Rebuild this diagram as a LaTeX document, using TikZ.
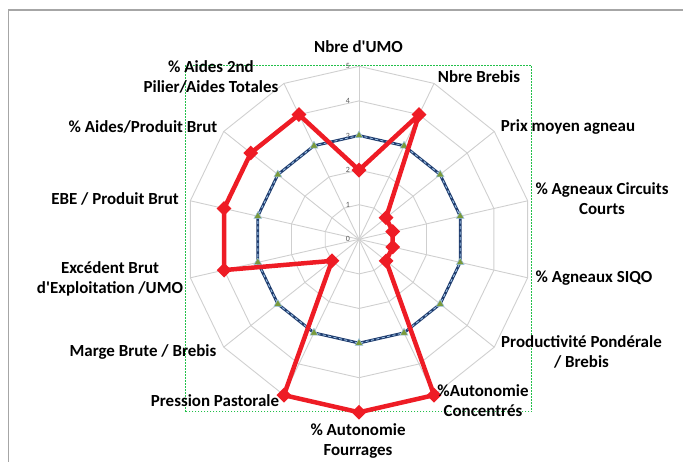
\documentclass[tikz,border=0pt]{standalone}
\usepackage{fontspec}
\setmainfont{Carlito}
\usetikzlibrary{shapes.geometric}

\definecolor{gridgray}{HTML}{CFCFCF}
\definecolor{framegray}{HTML}{A6A6A6}
\definecolor{navy}{HTML}{1F3C6E}
\definecolor{lightdash}{HTML}{9DC3E6}
\definecolor{olive}{HTML}{7A9A3A}
\definecolor{chartred}{HTML}{EE1C25}
\definecolor{boxgreen}{HTML}{22C04A}

\begin{document}
\begin{tikzpicture}[x=1bp, y=1bp,
	axislabel/.style={font=\bfseries\fontsize{17}{20.5}\selectfont, align=center, inner sep=0pt},
	ticklabel/.style={font=\fontsize{8}{8}\selectfont, text=black!65, inner sep=0pt, anchor=east},
	gridline/.style={gridgray, line width=0.9bp},
	refline/.style={navy, line width=2.8bp, line join=round},
	refdash/.style={lightdash, line width=0.9bp, dash pattern=on 3bp off 2.5bp},
	refmark/.style={regular polygon, regular polygon sides=3, fill=olive, draw=lightdash, line width=0.5bp, minimum size=9bp, inner sep=0pt},
	farmline/.style={chartred, line width=4.5bp, line join=round},
	farmmark/.style={diamond, fill=chartred, minimum width=15bp, minimum height=15bp, inner sep=0pt}]

	\useasboundingbox (0,0) rectangle (683,462);
	\draw [framegray, line width=1.2bp] (8.5,0) -- (8.5,452) -- (683,452);
	\draw [boxgreen, line width=1bp, dash pattern=on 1.6bp off 1.4bp] (185,50.3) rectangle (531.7,396.3);

	\coordinate (c) at (359,222.7);
	\begin{scope}[shift={(c)}]
		\foreach \r in {1,...,5}
			\draw [gridline] (90:\r*34.6) \foreach \k in {1,...,13} { -- ({90-\k*360/14}:\r*34.6) } -- cycle;
		\foreach \k in {0,...,13}
			\draw [gridline] (0,0) -- ({90-\k*360/14}:173);
		\foreach \r in {0,...,5}
			\node [ticklabel] (tick\r) at (-9,\r*34.6) {\r};

		\foreach \k in {0,...,13}
			\coordinate (ref\k) at ({90-\k*360/14}:3*34.6);
		\draw [refline] (ref0) \foreach \k in {1,...,13} { -- (ref\k) } -- cycle;
		\draw [refdash] (ref0) \foreach \k in {1,...,13} { -- (ref\k) } -- cycle;
		\foreach \k in {0,...,13}
			\node [refmark] (refm\k) at (ref\k) {};

		\foreach \v [count=\k from 0] in {2,4,1,1,1,1,5,5,5,1,4,4,4,4}
			\coordinate (farm\k) at ({90-\k*360/14}:\v*34.6);
		\draw [farmline] (farm0) \foreach \k in {1,...,13} { -- (farm\k) } -- cycle;
		\foreach \k in {0,...,13}
			\node [farmmark] (farmm\k) at (farm\k) {};
	\end{scope}

	\node [axislabel] (umo) at (358.5,415) {Nbre d\textquotesingle UMO};
	\node [axislabel] (brebis) at (479,385) {Nbre Brebis};
	\node [axislabel] (prix) at (568,335) {Prix moyen agneau};
	\node [axislabel] (circuits) at (602,263.5) {\% Agneaux Circuits\\Courts};
	\node [axislabel] (siqo) at (594,184) {\% Agneaux SIQO};
	\node [axislabel] (prod) at (581.5,110.3) {Productivit\'e Pond\'erale\\/ Brebis};
	\node [axislabel] (conc) at (483,61.3) {\%Autonomie\\Concentr\'es};
	\node [axislabel] (fourr) at (358,21) {\% Autonomie\\Fourrages};
	\node [axislabel] (pression) at (215,61) {Pression Pastorale};
	\node [axislabel] (marge) at (143,110) {Marge Brute / Brebis};
	\node [axislabel] (exc) at (110,183) {Exc\'edent Brut\\d\textquotesingle Exploitation /UMO};
	\node [axislabel] (ebe) at (115,263) {EBE / Produit Brut};
	\node [axislabel] (aides) at (143,335) {\% Aides/Produit Brut};
	\node [axislabel] (pilier) at (211,385.1) {\% Aides 2nd\\Pilier/Aides Totales};

\end{tikzpicture}
\end{document}
